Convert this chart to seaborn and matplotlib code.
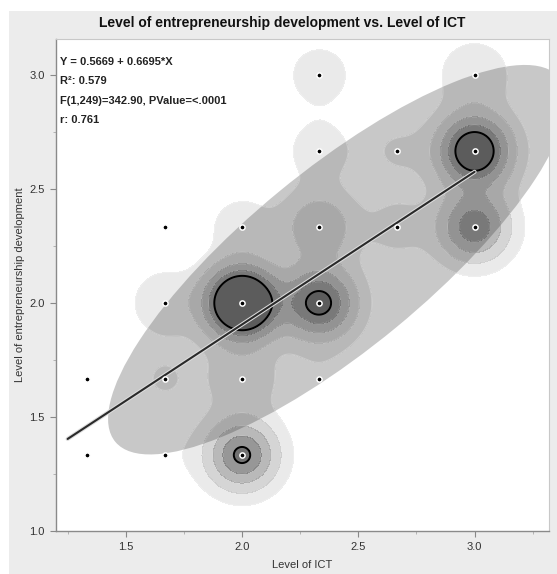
import numpy as np
import pandas as pd
import seaborn as sns
import matplotlib.pyplot as plt
import matplotlib.patheffects as pe
from matplotlib.patches import Ellipse, Rectangle

# grid of answer averages (Level of ICT, Level of entrepreneurship development) and how many firms sit on each
ict = [2.333, 3.0, 2.333, 2.667, 3.0, 1.667, 2.0, 2.333, 2.667, 3.0,
       1.667, 2.0, 2.333, 1.333, 1.667, 2.0, 2.333, 1.333, 1.667, 2.0]
ent = [3.0, 3.0, 2.667, 2.667, 2.667, 2.333, 2.333, 2.333, 2.333, 2.333,
       2.0, 2.0, 2.0, 1.667, 1.667, 1.667, 1.667, 1.333, 1.333, 1.333]
count = [5, 7, 5, 3, 42, 1, 5, 14, 4, 28,
         6, 60, 34, 1, 3, 6, 2, 1, 2, 32]

# fit reported by the software
intercept = 0.5669
slope = 0.6695
fit_x = [1.25, 3.0]
stats_lines = ["Y = 0.5669 + 0.6695*X", "R\u00b2: 0.579",
               "F(1,249)=342.90, PValue=<.0001", "r: 0.761"]

# density ellipse: centre, semi-axes, tilt (degrees)
ell_center = (2.41, 2.19)
ell_axes = (1.245, 0.39)
ell_angle = 40

# density contour levels (fraction of peak) and fill shades
dens_levels = [0.045, 0.13, 0.25, 0.38, 0.5]
dens_alpha = [0.09, 0.18, 0.30, 0.45, 0.62]

df = pd.DataFrame({"ict": ict, "ent": ent, "n": count})

sns.set_style("white")
plt.rcParams["font.family"] = ["Liberation Sans", "DejaVu Sans"]

fig = plt.figure(figsize=(5.57, 5.74), dpi=100, facecolor="white")
fig.add_artist(Rectangle((9 / 557, 0), 1, 1 - 11 / 574, transform=fig.transFigure,
                         facecolor="#ececec", edgecolor="none", zorder=-10))
ax = fig.add_axes([56 / 557, 43 / 574, 493 / 557, 492 / 574])
ax.set_facecolor("white")

ax.add_patch(Ellipse(ell_center, 2 * ell_axes[0], 2 * ell_axes[1], angle=ell_angle,
                     facecolor="#c8c8c8", edgecolor="none", zorder=1))

# weighted gaussian density on a grid
bw = 0.1
gx, gy = np.meshgrid(np.linspace(1.1, 3.4, 400), np.linspace(0.9, 3.3, 400))
dens = np.zeros_like(gx)
for xi, yi, w in zip(df.ict, df.ent, df.n):
    dens += w * np.exp(-((gx - xi) ** 2 + (gy - yi) ** 2) / (2 * bw ** 2))
lev = [f * dens.max() for f in dens_levels] + [dens.max() * 1.01]
ax.contourf(gx, gy, dens, levels=lev, colors=[(0.1, 0.1, 0.1, a) for a in dens_alpha], zorder=2)
ax.contour(gx, gy, dens, levels=lev[:-1], colors=[(1, 1, 1, 0.25)] * 4 + [(0, 0, 0, 1)],
           linewidths=[0.8, 0.8, 0.8, 0.8, 1.4], zorder=3)

# regression line
fit_y = [intercept + slope * v for v in fit_x]
sns.lineplot(x=fit_x, y=fit_y, color="#2a2a2a", linewidth=1.5, ax=ax, zorder=4,
             path_effects=[pe.Stroke(linewidth=3, foreground="#dddddd"), pe.Normal()])

# points
sns.scatterplot(data=df, x="ict", y="ent", color="black", s=14, edgecolor="white",
                linewidth=1.1, ax=ax, zorder=5)

ax.set_xlim(1.2, 3.32)
ax.set_ylim(1.0, 3.158)
ax.set_xticks([1.5, 2.0, 2.5, 3.0])
ax.set_yticks([1.0, 1.5, 2.0, 2.5, 3.0])
ax.set_xticks(np.arange(1.25, 3.3, 0.5), minor=True)
ax.set_yticks([1.25, 1.75, 2.25, 2.75], minor=True)
ax.tick_params(which="major", direction="out", length=4, width=0.8, color="#888888",
               labelsize=8, labelcolor="#333333", pad=4, left=True, bottom=True)
ax.tick_params(which="minor", direction="out", length=2.5, width=0.6, color="#aaaaaa",
               left=True, bottom=True)
for side in ["left", "bottom"]:
    ax.spines[side].set_color("#8a8a8a")
    ax.spines[side].set_linewidth(1.0)
for side in ["top", "right"]:
    ax.spines[side].set_color("#c8c8c8")
    ax.spines[side].set_linewidth(0.8)

ax.set_xlabel("Level of ICT", fontsize=8, color="#333333", labelpad=6)
ax.set_ylabel("Level of entrepreneurship development", fontsize=8, color="#333333", labelpad=3)

for i, line in enumerate(stats_lines):
    ax.text(0.008, 0.953 - i * 0.039, line, transform=ax.transAxes, fontsize=8,
            fontweight="bold", color="#222222", va="center", ha="left", zorder=6)

fig.text(0.507, 1 - 23 / 574, "Level of entrepreneurship development vs. Level of ICT",
         ha="center", va="center", fontsize=10, fontweight="bold", color="#111111")

fig.savefig("out.png", dpi=100, facecolor=fig.get_facecolor())
